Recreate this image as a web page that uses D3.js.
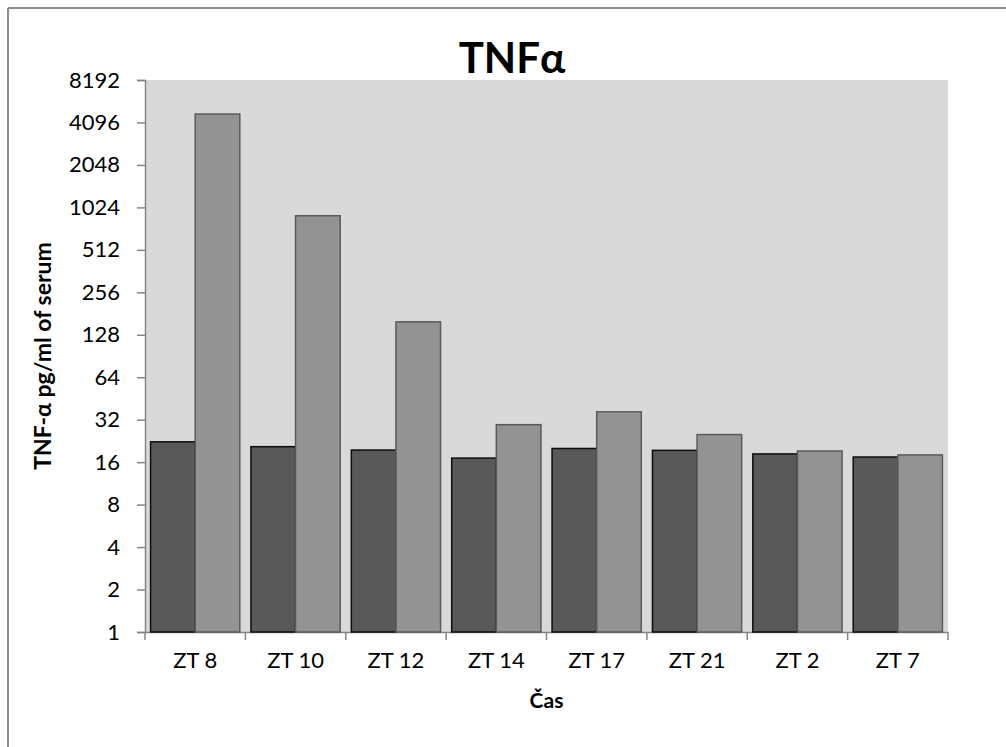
<!DOCTYPE html>
<html>
<head>
<meta charset="utf-8">
<script src="https://cdn.jsdelivr.net/npm/d3@7"></script>
<style>
  html, body { margin: 0; padding: 0; background: #fff; overflow: hidden; }
  svg { display: block; }
  text { font-family: Lato, "Open Sans", sans-serif; }
</style>
</head>
<body>
<div id="chart"></div>
<script>
// data
const categories = ["ZT 8", "ZT 10", "ZT 12", "ZT 14", "ZT 17", "ZT 21", "ZT 2", "ZT 7"];
const seriesA = [22.3, 20.6, 19.5, 17.1, 20.0, 19.4, 18.3, 17.4];
const seriesB = [4700, 893, 158, 29.5, 36.4, 25.1, 19.2, 18.0];
const yTicks = [1, 2, 4, 8, 16, 32, 64, 128, 256, 512, 1024, 2048, 4096, 8192];

const width = 1006;
const height = 747;
const margin = {top: 80, right: 58, bottom: 115, left: 145};

const svg = d3.select("#chart")
  .append("svg")
  .attr("width", width)
  .attr("height", height);

// outer frame (only top and left edges are in view)
svg.append("line")
  .attr("x1", 8).attr("y1", 8).attr("x2", width).attr("y2", 8)
  .attr("stroke", "#8c8c8c").attr("stroke-width", 2);
svg.append("line")
  .attr("x1", 8).attr("y1", 8).attr("x2", 8).attr("y2", height)
  .attr("stroke", "#8c8c8c").attr("stroke-width", 2);

const innerWidth = width - margin.left - margin.right;
const innerHeight = height - margin.top - margin.bottom;

const chart = svg.append("g")
  .attr("transform", `translate(${margin.left}, ${margin.top})`);

chart.append("rect")
  .attr("width", innerWidth)
  .attr("height", innerHeight)
  .attr("fill", "#d9d9d9");

const x = d3.scaleBand()
  .domain(categories)
  .range([0, innerWidth]);

const inner = d3.scaleBand()
  .domain(["a", "b"])
  .range([0, x.bandwidth()])
  .paddingOuter(0.125);

const y = d3.scaleLog()
  .base(2)
  .domain([1, 8192])
  .range([innerHeight, 0]);

// y axis
const yAxis = chart.append("g")
  .attr("font-family", "Lato, sans-serif")
  .attr("font-size", 22)
  .call(d3.axisLeft(y).tickValues(yTicks).tickFormat(d3.format("d")).tickSize(8).tickPadding(17));
yAxis.attr("font-family", "Lato, sans-serif").attr("font-size", 22);
yAxis.select(".domain").attr("stroke", "#868686").attr("stroke-width", 1.5);
yAxis.selectAll(".tick line").attr("stroke", "#868686").attr("stroke-width", 1.5);
yAxis.selectAll("text").attr("fill", "#000");

// x axis
const xAxis = chart.append("g")
  .attr("transform", `translate(0, ${innerHeight})`)
  .call(d3.axisBottom(x).tickSize(0).tickPadding(20));
xAxis.attr("font-family", "Lato, sans-serif").attr("font-size", 22);
xAxis.select(".domain").attr("stroke", "#868686").attr("stroke-width", 1.5);
xAxis.selectAll("text").attr("fill", "#000");

// category boundary ticks
chart.append("g")
  .selectAll("line")
  .data(d3.range(categories.length + 1))
  .enter()
  .append("line")
  .attr("x1", i => i * x.step())
  .attr("x2", i => i * x.step())
  .attr("y1", innerHeight)
  .attr("y2", innerHeight + 8)
  .attr("stroke", "#868686")
  .attr("stroke-width", 1.5);

// bars
chart.selectAll(".barA")
  .data(categories)
  .enter()
  .append("rect")
  .attr("x", (d, i) => x(d) + inner("a"))
  .attr("y", (d, i) => y(seriesA[i]))
  .attr("width", inner.bandwidth())
  .attr("height", (d, i) => innerHeight - y(seriesA[i]))
  .attr("fill", "#595959")
  .attr("stroke", "#0d0d0d")
  .attr("stroke-width", 1.5);

chart.selectAll(".barB")
  .data(categories)
  .enter()
  .append("rect")
  .attr("x", (d, i) => x(d) + inner("b"))
  .attr("y", (d, i) => y(seriesB[i]))
  .attr("width", inner.bandwidth())
  .attr("height", (d, i) => innerHeight - y(seriesB[i]))
  .attr("fill", "#939393")
  .attr("stroke", "#5a5a5a")
  .attr("stroke-width", 1.5);

// titles
svg.append("text")
  .attr("x", 512)
  .attr("y", 73)
  .attr("text-anchor", "middle")
  .attr("font-size", 42)
  .attr("font-weight", "bold")
  .text("TNFα");

svg.append("text")
  .attr("x", margin.left + innerWidth / 2)
  .attr("y", 708)
  .attr("text-anchor", "middle")
  .attr("font-size", 21)
  .attr("font-weight", "bold")
  .text("Čas");

svg.append("text")
  .attr("transform", `translate(51, ${margin.top + innerHeight / 2}) rotate(-90)`)
  .attr("text-anchor", "middle")
  .attr("font-size", 23)
  .attr("font-weight", "bold")
  .text("TNF-α pg/ml of serum");
</script>
</body>
</html>
